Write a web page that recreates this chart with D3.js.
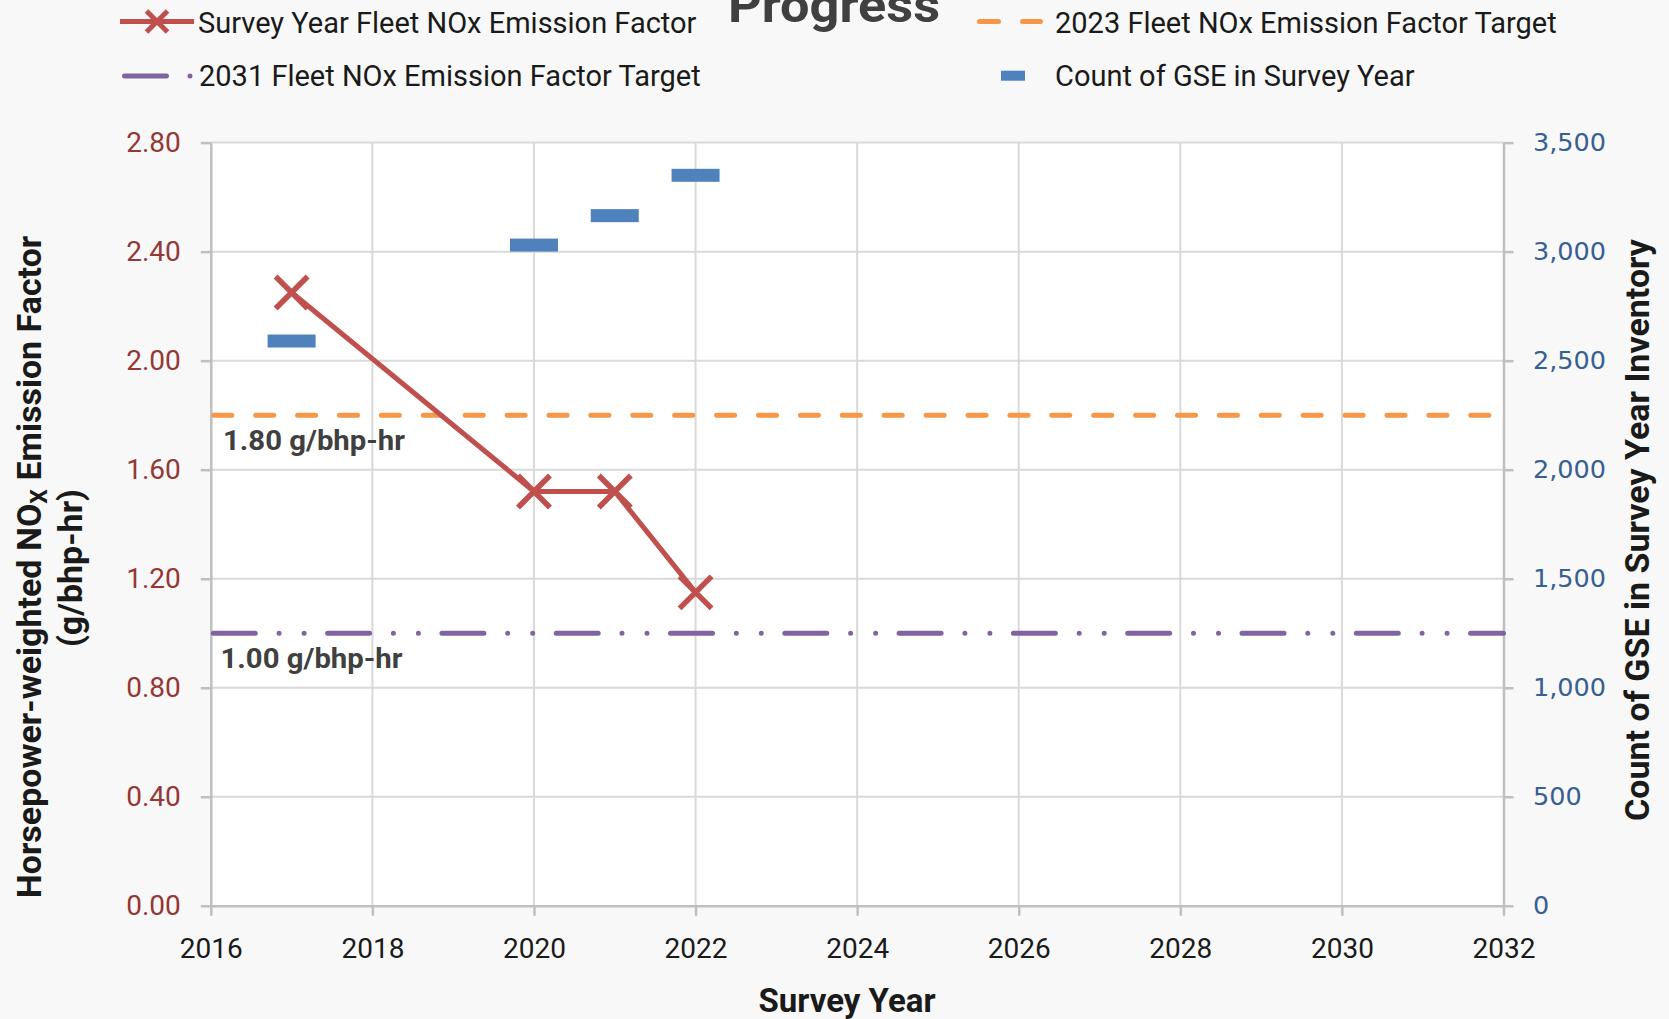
<!DOCTYPE html>
<html>
<head>
<meta charset="utf-8">
<script src="https://cdn.jsdelivr.net/npm/d3@7"></script>
<style>
  body { margin: 0; background: #f8f8f8; }
  svg { display: block; }
  text { font-family: Roboto, sans-serif; }
</style>
</head>
<body>
<script>
// Survey data
const surveyYears = [2017, 2020, 2021, 2022];
const noxFactor = [2.25, 1.52, 1.52, 1.15];
const gseCount = [2590, 3030, 3165, 3350];

// Target lines (span the whole x range)
const targetYears = [2016, 2032];
const target2023 = [1.80, 1.80];
const target2031 = [1.00, 1.00];
const targetLabels = ['1.80 g/bhp-hr', '1.00 g/bhp-hr'];

// Ticks
const xTicks = [2016, 2018, 2020, 2022, 2024, 2026, 2028, 2030, 2032];
const leftTicks = [0, 0.4, 0.8, 1.2, 1.6, 2.0, 2.4, 2.8];
const rightTicks = [0, 500, 1000, 1500, 2000, 2500, 3000, 3500];

const legendLabels = [
    'Survey Year Fleet NOx Emission Factor',
    '2023 Fleet NOx Emission Factor Target',
    '2031 Fleet NOx Emission Factor Target',
    'Count of GSE in Survey Year'
];

const W = 1669, H = 1019;
const plot = { left: 210.8, right: 1503.5, top: 142.6, bottom: 905.8 };

const red = '#C0504D', orange = '#F79646', purple = '#8064A2', blue = '#4F81BD';

const svg = d3.select('body').append('svg')
    .attr('width', W)
    .attr('height', H);

svg.append('rect').attr('width', W).attr('height', H).attr('fill', '#f8f8f8');

// Scales
const x = d3.scaleLinear().domain([2016, 2032]).range([plot.left, plot.right]);
const yL = d3.scaleLinear().domain([0, 2.8]).range([plot.bottom, plot.top]);
const yR = d3.scaleLinear().domain([0, 3500]).range([plot.bottom, plot.top]);

// Plot area background
svg.append('rect')
    .attr('x', plot.left).attr('y', plot.top)
    .attr('width', plot.right - plot.left).attr('height', plot.bottom - plot.top)
    .attr('fill', '#ffffff');

// Gridlines
const grid = svg.append('g').attr('stroke', '#d9d9d9').attr('stroke-width', 2);
grid.selectAll('.hgrid')
    .data(leftTicks.filter(d => d > 0))
    .enter().append('line')
    .attr('x1', plot.left).attr('x2', plot.right)
    .attr('y1', d => yL(d)).attr('y2', d => yL(d));
grid.selectAll('.vgrid')
    .data(xTicks.slice(1, -1))
    .enter().append('line')
    .attr('x1', d => x(d)).attr('x2', d => x(d))
    .attr('y1', plot.top).attr('y2', plot.bottom);

// Axes
const leftAxis = svg.append('g')
    .attr('transform', `translate(${plot.left},0)`)
    .call(d3.axisLeft(yL).tickValues(leftTicks).tickFormat(d3.format('.2f'))
        .tickSize(10).tickSizeOuter(0).tickPadding(20));
leftAxis.selectAll('text').attr('fill', '#953735').style('font-size', '28px').style('font-family', 'Roboto');

const rightAxis = svg.append('g')
    .attr('transform', `translate(${plot.right},0)`)
    .call(d3.axisRight(yR).tickValues(rightTicks).tickFormat(d3.format(','))
        .tickSize(10).tickSizeOuter(0).tickPadding(19.5));
rightAxis.selectAll('text').attr('fill', '#376092').style('font-size', '25.5px').style('font-family', '"DejaVu Sans"');

const bottomAxis = svg.append('g')
    .attr('transform', `translate(0,${plot.bottom})`)
    .call(d3.axisBottom(x).tickValues(xTicks).tickFormat(d3.format('d'))
        .tickSize(10).tickSizeOuter(0).tickPadding(22));
bottomAxis.selectAll('text').attr('fill', '#1a1a1a').style('font-size', '28px').style('font-family', 'Roboto');

[leftAxis, rightAxis, bottomAxis].forEach(a => {
    a.select('.domain').attr('stroke', '#bfbfbf').attr('stroke-width', 2.5);
    a.selectAll('.tick line').attr('stroke', '#bfbfbf').attr('stroke-width', 2.5);
});

// GSE count bars (short horizontal dashes)
svg.selectAll('.gse')
    .data(surveyYears)
    .enter().append('rect')
    .attr('class', 'gse')
    .attr('x', d => x(d) - 24)
    .attr('y', (d, i) => yR(gseCount[i]) - 6.5)
    .attr('width', 48)
    .attr('height', 13)
    .attr('fill', blue);

// Target lines
const targetLine = d3.line().x(d => x(d[0])).y(d => yL(d[1]));

svg.append('path')
    .datum(targetYears.map((d, i) => [d, target2023[i]]))
    .attr('d', targetLine)
    .attr('fill', 'none')
    .attr('stroke', orange)
    .attr('stroke-width', 5)
    .attr('stroke-linecap', 'round')
    .attr('stroke-dasharray', '18,23.9')
    .attr('stroke-dashoffset', -3);

svg.append('path')
    .datum(targetYears.map((d, i) => [d, target2031[i]]))
    .attr('d', targetLine)
    .attr('fill', 'none')
    .attr('stroke', purple)
    .attr('stroke-width', 5)
    .attr('stroke-linecap', 'round')
    .attr('stroke-dasharray', '42,23.8,0,25,0,23.5')
    .attr('stroke-dashoffset', -2.5);

// Target labels
svg.selectAll('.tlabel')
    .data([target2023[0], target2031[0]])
    .enter().append('text')
    .attr('x', (d, i) => i === 0 ? 223 : 220.5)
    .attr('y', d => yL(d) + 35)
    .attr('fill', '#404040')
    .style('font-size', '27px')
    .style('font-weight', 'bold')
    .attr('textLength', 182)
    .attr('lengthAdjust', 'spacingAndGlyphs')
    .text((d, i) => targetLabels[i]);

// NOx emission factor line
const noxLine = d3.line().x(d => x(d[0])).y(d => yL(d[1]));
svg.append('path')
    .datum(surveyYears.map((d, i) => [d, noxFactor[i]]))
    .attr('d', noxLine)
    .attr('fill', 'none')
    .attr('stroke', red)
    .attr('stroke-width', 5);

const xMark = h => `M${-h},${-h}L${h},${h}M${-h},${h}L${h},${-h}`;
svg.selectAll('.mark')
    .data(surveyYears)
    .enter().append('path')
    .attr('transform', (d, i) => `translate(${x(d)},${yL(noxFactor[i])})`)
    .attr('d', xMark(16))
    .attr('stroke', red)
    .attr('stroke-width', 5.5)
    .attr('fill', 'none');

// Title (top part is cut off in the original)
svg.append('text')
    .attr('x', 834).attr('y', 22)
    .attr('text-anchor', 'middle')
    .attr('fill', '#404040')
    .style('font-size', '48px')
    .style('font-weight', 'bold')
    .attr('textLength', 212)
    .attr('lengthAdjust', 'spacingAndGlyphs')
    .text('Progress');

// Axis titles
svg.append('text')
    .attr('x', 847).attr('y', 1012)
    .attr('text-anchor', 'middle')
    .attr('fill', '#1a1a1a')
    .style('font-size', '33px')
    .style('font-weight', 'bold')
    .text('Survey Year');

const leftTitle = svg.append('text')
    .attr('transform', 'translate(41,567) rotate(-90)')
    .attr('text-anchor', 'middle')
    .attr('fill', '#1a1a1a')
    .style('font-size', '34px')
    .style('font-weight', 'bold');
leftTitle.append('tspan').text('Horsepower-weighted NO');
leftTitle.append('tspan').attr('dy', 6).style('font-size', '23px').text('X');
leftTitle.append('tspan').attr('dy', -6).text(' Emission Factor');

svg.append('text')
    .attr('transform', 'translate(82,568) rotate(-90)')
    .attr('text-anchor', 'middle')
    .attr('fill', '#1a1a1a')
    .style('font-size', '34px')
    .style('font-weight', 'bold')
    .text('(g/bhp-hr)');

svg.append('text')
    .attr('transform', 'translate(1649,530) rotate(-90)')
    .attr('text-anchor', 'middle')
    .attr('fill', '#1a1a1a')
    .style('font-size', '34px')
    .style('font-weight', 'bold')
    .text('Count of GSE in Survey Year Inventory');

// Legend
const legend = svg.append('g');
const legendPos = [[198, 32.5], [1055, 32.5], [199, 86], [1055, 86]];
legend.selectAll('text')
    .data(legendLabels)
    .enter().append('text')
    .attr('x', (d, i) => legendPos[i][0])
    .attr('y', (d, i) => legendPos[i][1])
    .attr('fill', '#1a1a1a')
    .style('font-size', '29px')
    .text(d => d);

// legend symbols
legend.append('line')
    .attr('x1', 120).attr('x2', 194).attr('y1', 21.5).attr('y2', 21.5)
    .attr('stroke', red).attr('stroke-width', 5);
legend.append('path')
    .attr('transform', 'translate(157,21.5)')
    .attr('d', xMark(10.5))
    .attr('stroke', red).attr('stroke-width', 5).attr('fill', 'none');
legend.append('line')
    .attr('x1', 979.5).attr('x2', 1040.5).attr('y1', 21.5).attr('y2', 21.5)
    .attr('stroke', orange).attr('stroke-width', 5)
    .attr('stroke-linecap', 'round').attr('stroke-dasharray', '19,24');
legend.append('line')
    .attr('x1', 124.5).attr('x2', 190.5).attr('y1', 76).attr('y2', 76)
    .attr('stroke', purple).attr('stroke-width', 5)
    .attr('stroke-linecap', 'round').attr('stroke-dasharray', '42,23.5,0,100');
legend.append('rect')
    .attr('x', 1001).attr('y', 70.7).attr('width', 24).attr('height', 10)
    .attr('fill', blue);
</script>
</body>
</html>
